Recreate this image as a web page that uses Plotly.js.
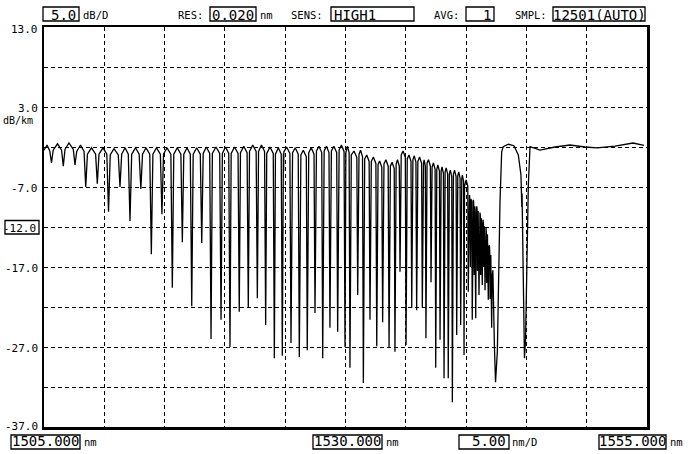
<!DOCTYPE html>
<html>
<head>
<meta charset="utf-8">
<script src="https://cdn.plot.ly/plotly-3.0.1.min.js"></script>
<style>
  html, body { margin: 0; padding: 0; background: #fff; }
  #chart { width: 692px; height: 454px; }
</style>
</head>
<body>
<div id="chart"></div>
<script>
// ---- Spectrum: [wavelength nm, level dB] ----
const bandShort = [
  [1505.00,-2.4],[1505.25,-1.75],[1505.48,-2.5],[1505.62,-4.0],[1505.76,-2.4],[1506.12,-1.6],
  [1506.46,-2.4],[1506.60,-4.4],[1506.74,-2.3],[1507.07,-1.5],
  [1507.43,-2.3],[1507.57,-4.25],[1507.71,-2.55],[1508.03,-1.75],
  [1508.32,-2.55],[1508.46,-7.0],[1508.60,-2.9],[1508.94,-2.1],
  [1509.28,-2.9],[1509.42,-6.6],[1509.56,-2.9],[1509.89,-2.1],
  [1510.21,-2.9],[1510.35,-10.1],[1510.49,-3.0],[1510.80,-2.2],
  [1511.16,-3.0],[1511.30,-7.0],[1511.44,-2.9],[1511.72,-2.1],
  [1511.99,-2.9],[1512.13,-11.25],[1512.27,-2.9],[1512.59,-2.1],
  [1512.89,-2.9],[1513.03,-7.25],[1513.17,-2.9],[1513.46,-2.1],
  [1513.77,-2.9],[1513.90,-15.4],[1514.03,-2.9],[1514.33,-2.1],
  [1514.65,-2.9],[1514.78,-10.4],[1514.91,-2.9],[1515.20,-2.1],
  [1515.52,-2.9],[1515.64,-19.6],[1515.76,-2.9],[1516.05,-2.1],
  [1516.35,-2.9],[1516.47,-13.9],[1516.59,-2.9],[1516.86,-2.1],
  [1517.13,-2.9],[1517.25,-21.9],[1517.37,-2.9],[1517.66,-2.1],
  [1517.96,-2.9],[1518.08,-14.0],[1518.20,-2.8],[1518.46,-2.0]
];
const bandMid = [
  [1518.74,-2.8],[1518.85,-26.0],[1518.96,-2.8],[1519.26,-2.0],
  [1519.57,-2.8],[1519.68,-23.6],[1519.79,-2.8],[1520.05,-2.0],
  [1520.32,-2.8],[1520.42,-27.0],[1520.52,-2.8],[1520.80,-2.0],
  [1521.09,-2.8],[1521.19,-22.6],[1521.29,-2.7],[1521.57,-1.9],
  [1521.84,-2.7],[1521.94,-22.1],[1522.04,-2.55],[1522.31,-1.75],
  [1522.59,-2.55],[1522.69,-20.9],[1522.79,-2.55],[1523.03,-1.75],
  [1523.29,-2.55],[1523.38,-24.25],[1523.47,-2.8],[1523.74,-2.0],
  [1524.01,-2.8],[1524.10,-28.4],[1524.19,-2.9],[1524.43,-2.1],
  [1524.67,-2.9],[1524.76,-28.1],[1524.85,-2.8],[1524.87,-5.0],[1524.89,-2.6],[1525.12,-2.0],
  [1525.39,-2.8],[1525.48,-26.5],[1525.57,-2.9],[1525.59,-5.5],[1525.61,-2.7],[1525.83,-2.1],
  [1526.08,-2.9],[1526.17,-28.25],[1526.26,-3.2],[1526.28,-5.8],[1526.30,-3.0],[1526.50,-2.4],
  [1526.75,-3.2],[1526.83,-27.4],[1526.91,-2.9],[1526.93,-5.4],[1526.95,-2.7],[1527.16,-2.1],
  [1527.39,-2.9],[1527.47,-22.75],[1527.55,-2.7],[1527.57,-5.6],[1527.59,-2.5],[1527.80,-1.9],
  [1528.03,-2.7],[1528.11,-28.4],[1528.19,-2.7],[1528.21,-5.2],[1528.23,-2.5],[1528.42,-1.9],
  [1528.63,-2.7],[1528.71,-24.6],[1528.79,-2.7],[1528.81,-5.8],[1528.83,-2.5],[1529.04,-1.9],
  [1529.27,-2.7],[1529.35,-25.1],[1529.43,-2.55],[1529.45,-5.4],[1529.47,-2.4],[1529.66,-1.75],
  [1529.88,-2.55],[1529.96,-27.0],[1530.03,-2.7],[1530.16,-1.9]
];
const bandLong = [
  [1530.30,-2.7],[1530.37,-29.6],[1530.44,-3.3],[1530.46,-6.5],[1530.48,-3.0],[1530.70,-2.5],
  [1530.94,-3.3],[1531.01,-20.5],[1531.08,-3.2],[1531.10,-6.2],[1531.12,-2.9],[1531.25,-2.4],
  [1531.41,-3.2],[1531.48,-31.5],[1531.55,-3.8],[1531.57,-7.0],[1531.59,-3.5],[1531.76,-3.0],
  [1531.96,-3.8],[1532.03,-23.6],[1532.10,-4.05],[1532.12,-7.3],[1532.14,-3.8],[1532.31,-3.25],
  [1532.52,-4.05],[1532.59,-26.9],[1532.66,-4.55],[1532.68,-7.8],[1532.70,-4.2],[1532.83,-3.75],
  [1533.01,-4.55],[1533.08,-23.9],[1533.15,-4.4],[1533.17,-7.6],[1533.19,-4.1],[1533.35,-3.6],
  [1533.54,-4.4],[1533.61,-27.1],[1533.68,-4.7],[1533.70,-8.0],[1533.72,-4.4],[1533.86,-3.9],
  [1534.04,-4.7],[1534.10,-27.6],[1534.16,-4.4],[1534.18,-7.6],[1534.20,-4.1],[1534.31,-3.6],
  [1534.46,-4.4],[1534.52,-17.6],[1534.58,-3.3],[1534.60,-6.2],[1534.62,-3.0],[1534.77,-2.5],
  [1534.96,-3.3],[1535.02,-26.75],[1535.08,-3.8],[1535.10,-7.2],[1535.12,-3.5],[1535.26,-3.0],
  [1535.43,-3.8],[1535.49,-22.1],[1535.55,-3.9],[1535.57,-7.3],[1535.59,-3.6],[1535.70,-3.1],
  [1535.84,-3.9],[1535.90,-22.4],[1535.96,-4.05],[1535.98,-7.4],[1536.00,-3.8],[1536.14,-3.25],
  [1536.31,-4.05],[1536.37,-22.1],[1536.43,-4.4],[1536.45,-7.8],[1536.47,-4.0],[1536.52,-3.6],
  [1536.62,-4.4],[1536.67,-25.9],[1536.72,-4.4],[1536.74,-7.7],[1536.76,-4.0],[1536.88,-3.6],
  [1537.04,-4.4],[1537.09,-18.9],[1537.14,-4.8],[1537.16,-8.2],[1537.18,-4.5],[1537.29,-4.0],
  [1537.43,-4.8],[1537.48,-29.6],[1537.53,-5.05],[1537.55,-8.4],[1537.57,-4.8],[1537.66,-4.25],
  [1537.79,-5.05],[1537.84,-26.1],[1537.89,-5.3],[1537.91,-8.7],[1537.93,-5.0],[1538.00,-4.5],
  [1538.12,-5.3],[1538.17,-30.9],[1538.22,-5.4],[1538.24,-8.8],[1538.26,-5.1],[1538.35,-4.6],
  [1538.47,-5.4],[1538.52,-30.9],[1538.57,-5.7],[1538.59,-9.0],[1538.61,-5.4],[1538.69,-4.9],
  [1538.81,-5.7],[1538.86,-33.9],[1538.91,-5.7],[1538.93,-9.2],[1538.95,-5.4],[1539.04,-4.9],
  [1539.17,-5.7],[1539.22,-25.5],[1539.27,-5.9],[1539.29,-9.4],[1539.31,-5.6],[1539.39,-5.1],
  [1539.50,-5.9],[1539.55,-24.25],[1539.60,-6.3],[1539.62,-9.8],[1539.64,-6.0],[1539.69,-5.5],
  [1539.79,-6.3],[1539.83,-28.0],[1539.87,-6.9],[1540.00,-6.1],
  [1540.14,-6.9],[1540.18,-20.1],[1540.22,-8.5],[1540.28,-8.0],[1540.32,-8.6],[1540.36,-17.0],[1540.40,-8.5],
  [1540.47,-8.8],[1540.51,-23.6],[1540.55,-9.0],[1540.60,-8.6],[1540.63,-9.0],[1540.67,-18.0],[1540.72,-9.4],
  [1540.80,-23.4],[1540.84,-10.0],[1540.88,-9.4],[1540.91,-9.8],[1540.94,-17.5],[1541.00,-10.0],
  [1541.07,-20.5],[1541.11,-10.6],[1541.15,-10.2],[1541.18,-10.6],[1541.21,-18.0],[1541.27,-10.9],
  [1541.34,-19.25],[1541.38,-11.6],[1541.41,-11.1],[1541.44,-11.6],[1541.46,-17.0],[1541.51,-11.9],
  [1541.57,-19.9],[1541.61,-12.6],[1541.65,-12.1],[1541.68,-12.7],[1541.71,-19.0],[1541.77,-12.9],
  [1541.84,-21.1],[1541.88,-14.5],[1541.93,-14.25],[1541.96,-15.0],[1541.99,-21.0],[1542.05,-15.5],
  [1542.12,-24.6],[1542.16,-18.2],[1542.22,-17.4],[1542.35,-27.0],[1542.44,-31.4]
];
const bandEdge = [
  [1542.59,-27.6],[1542.73,-16.1],[1542.81,-8.9],[1542.95,-2.6],[1543.08,-1.96],[1543.50,-1.66],
  [1543.97,-1.84],[1544.33,-3.0],[1544.55,-5.5],[1544.62,-9.5],[1544.64,-7.8],[1544.72,-16.1],
  [1544.84,-28.4],[1544.93,-26.1],[1545.03,-17.1],[1545.16,-6.75],[1545.30,-1.96],[1546.13,-2.4],
  [1547.37,-2.0],[1548.62,-1.75],[1549.86,-2.0],[1550.85,-2.1],[1552.35,-1.9],[1553.84,-1.5],
  [1554.75,-1.8]
];

// Level-axis labels shown on the left
const yLabelValues = [13, 3, -7, -12, -17, -27, -37];
const yLabelTexts  = ["13.0", "3.0", "-7.0", "-12.0", "-17.0", "-27.0", "-37.0"];

// Header / footer instrument readouts
const headerLabels = ["", "RES:", "SENS:", "AVG:", "SMPL:"];
const headerValues = ["5.0", "0.020", "HIGH1", "1", "12501(AUTO)"];
const headerUnits  = ["dB/D", "nm", "", "", ""];
const footerValues = ["1505.000", "1530.000", "5.00", "1555.000"];
const footerUnits  = ["nm", "nm", "nm/D", "nm"];

const spectrum = bandShort.concat(bandMid, bandLong, bandEdge);

// ---- Layout helpers (pixel positions -> paper coordinates) ----
const L = 44, R = 647, T = 27, B = 427;
const px = v => (v - L) / (R - L);
const py = v => (B - v) / (B - T);
const MONO = "DejaVu Sans Mono, Liberation Mono, monospace";

const shapes = [];
const annotations = [];

function box(x0, y0, x1, y1) {
  shapes.push({ type: "rect", xref: "paper", yref: "paper",
    x0: px(x0), x1: px(x1), y0: py(y1), y1: py(y0),
    line: { color: "#000", width: 1.3 }, fillcolor: "rgba(0,0,0,0)" });
}
function text(t, x, y, anchor, size) {
  annotations.push({ text: t, xref: "paper", yref: "paper", x: px(x), y: py(y),
    xanchor: anchor, yanchor: "middle", showarrow: false,
    font: { family: MONO, size: size, color: "#000" } });
}

// Header row
const hy = 14.5;
box(43, 7, 79, 21); text(headerValues[0], 78, hy, "right", 14); text(headerUnits[0], 81, hy + 0.5, "left", 10.5);
text(headerLabels[1], 176, hy + 0.5, "left", 10.5);
box(210, 7, 256, 21); text(headerValues[1], 233, hy, "center", 14); text(headerUnits[1], 258, hy + 0.5, "left", 10.5);
text(headerLabels[2], 289, hy + 0.5, "left", 10.5);
box(331, 7, 414, 21); text(headerValues[2], 332, hy, "left", 14);
text(headerLabels[3], 432, hy + 0.5, "left", 10.5);
box(466, 7, 494, 21); text(headerValues[3], 493, hy, "right", 14);
text(headerLabels[4], 513, hy + 0.5, "left", 10.5);
box(553, 7, 645, 21); text(headerValues[4], 599, hy, "center", 14);

// Footer row
const fy = 441.5;
box(11, 435, 80, 449);   text(footerValues[0], 45.5, fy, "center", 14);  text(footerUnits[0], 82, fy + 0.5, "left", 10.5);
box(313, 435, 382, 449); text(footerValues[1], 347.5, fy, "center", 14); text(footerUnits[1], 384, fy + 0.5, "left", 10.5);
box(459, 435, 509, 449); text(footerValues[2], 508, fy, "right", 14);    text(footerUnits[2], 510, fy + 0.5, "left", 10.5);
box(599, 435, 666, 449); text(footerValues[3], 632.5, fy, "center", 14); text(footerUnits[3], 668, fy + 0.5, "left", 10.5);

// Left level labels
yLabelValues.forEach((v, i) => {
  const yPix = B - (v + 37) / 50 * (B - T);
  let yy = yPix + 1.5;
  if (v === 13) yy = yPix + 2.5;
  if (v === -37) yy = yPix - 1;
  if (v === -12) {
    box(5, yPix - 6.5, 39, yPix + 7);
    text(yLabelTexts[i], 38, yy, "right", 11);
  } else {
    text(yLabelTexts[i], 40, yy, "right", 11);
  }
});
text("dB/km", 1, 120.5, "left", 10);

const trace = {
  x: spectrum.map(p => p[0]), y: spectrum.map(p => p[1]),
  type: "scatter", mode: "lines",
  line: { color: "#000", width: 1.3 }, hoverinfo: "skip"
};

const axisCommon = {
  showticklabels: false, ticks: "", zeroline: false,
  showgrid: true, gridcolor: "#000", gridwidth: 1, griddash: "4px,3px",
  showline: true, linecolor: "#000", linewidth: 2.5, mirror: true
};

const layout = {
  width: 692, height: 454,
  margin: { l: L, r: 692 - R, t: T, b: 454 - B, pad: 0 },
  paper_bgcolor: "#fff", plot_bgcolor: "#fff",
  showlegend: false,
  xaxis: Object.assign({}, axisCommon, { range: [1505, 1555], tick0: 1505, dtick: 5 }),
  yaxis: Object.assign({}, axisCommon, { range: [-37, 13], tick0: -37, dtick: 5 }),
  shapes: shapes,
  annotations: annotations
};

Plotly.newPlot("chart", [trace], layout, { staticPlot: true, displayModeBar: false });
</script>
</body>
</html>
